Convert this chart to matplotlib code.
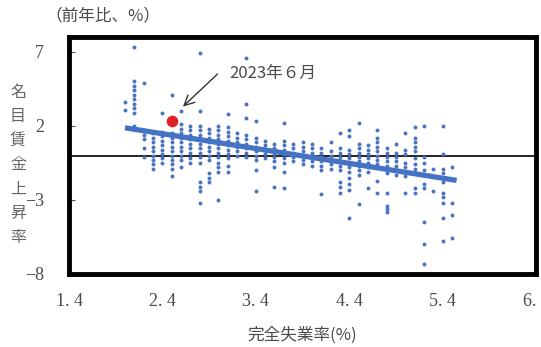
import matplotlib
matplotlib.use("Agg")
import matplotlib.pyplot as plt
import numpy as np

# Monthly observations grouped by unemployment rate (%): nominal wage growth (% y/y)
wage_by_unemp = {
    2.0: [3.6, 3.1],
    2.1: [7.3, 5.0, 4.7, 4.4, 4.1, 3.8, 3.5, 3.2, 2.9, 2.0, 1.8],
    2.2: [4.9, 1.7, 1.4, 1.1, 0.5, -0.1],
    2.3: [1.5, 1.2, 0.9, 0.6, 0.3, 0.0, -0.3, -0.6, -0.9],
    2.4: [2.9, 1.6, 1.3, 1.0, 0.7, 0.4, 0.1, -0.2, -0.5],
    2.5: [4.1, 1.5, 1.2, 0.9, 0.6, 0.3, 0.0, -0.3, -0.6, -0.9, -1.4],
    2.6: [3.0, 2.1, 1.8, 1.5, 1.2, 0.9, 0.6, 0.3, 0.0, -0.3, -0.8],
    2.7: [2.0, 1.7, 1.4, 1.1, 0.8, 0.5, 0.2, -0.2, -0.5],
    2.8: [6.9, 3.0, 2.0, 1.7, 1.4, 1.1, 0.8, 0.5, 0.2, -0.1, -0.5, -1.8, -2.1, -2.4, -3.2],
    2.9: [1.8, 1.5, 1.2, 0.9, 0.6, 0.3, 0.0, -0.3, -1.2, -1.5, -1.8],
    3.0: [2.0, 1.7, 1.4, 1.1, 0.8, 0.5, 0.2, -0.1, -0.5, -0.8, -1.1, -3.0],
    3.1: [2.8, 1.9, 1.6, 1.3, 1.0, 0.7, 0.4, 0.1, -0.2, -0.7, -1.1],
    3.2: [1.5, 1.2, 0.9, 0.6, 0.3, 0.0],
    3.3: [6.6, 3.5, 2.5, 1.4, 1.1, 0.8, 0.5, 0.2, -0.1],
    3.4: [2.3, 1.2, 0.9, 0.6, 0.3, 0.0, -0.3, -1.0, -2.4],
    3.5: [1.0, 0.7, 0.4, 0.1, -0.2],
    3.6: [0.8, 0.5, 0.2, -0.1, -0.4, -0.8, -2.1],
    3.7: [2.2, 1.0, 0.7, 0.4, 0.1, -0.2, -0.5, -1.1, -2.2],
    3.8: [0.8, 0.5, 0.2, -0.1, -0.4],
    3.9: [0.9, 0.6, 0.3, 0.0, -0.3, -0.6],
    4.0: [0.8, 0.5, 0.2, -0.1, -0.4, -0.7],
    4.1: [0.5, 0.2, -0.1, -0.4, -0.7, -1.0, -2.6],
    4.2: [0.9, 0.3, 0.0, -0.3, -0.6, -0.9],
    4.3: [1.5, 0.5, 0.2, -0.1, -0.4, -0.7, -1.0, -1.8, -2.1, -2.5],
    4.4: [1.7, 1.3, 0.4, 0.1, -0.2, -0.5, -0.8, -1.1, -1.5, -1.9, -2.3, -4.2],
    4.5: [2.2, 0.8, 0.5, 0.2, -0.1, -0.4, -0.7, -1.0, -1.3, -3.3],
    4.6: [0.7, 0.4, 0.1, -0.2, -0.5, -0.8, -1.1, -2.2],
    4.7: [1.7, 1.2, 0.9, 0.6, 0.3, 0.0, -0.3, -0.6, -1.7, -2.5],
    4.8: [0.5, 0.2, -0.1, -0.4, -0.7, -1.2, -2.5, -3.4, -3.6, -3.8],
    4.9: [0.8, 0.2, -0.1, -0.4, -0.7, -1.0, -1.3],
    5.0: [1.5, 0.4, 0.1, -0.5, -0.8, -1.1, -1.4, -2.5],
    5.1: [1.9, 1.2, 0.9, 0.6, 0.3, -0.2, -0.6, -0.9, -1.2, -2.2, -2.5],
    5.2: [2.0, -0.1, -0.5, -1.0, -1.3, -1.9, -2.2, -4.5, -6.0, -7.3],
    5.3: [-0.9, -2.4],
    5.4: [2.0, 0.1, -0.9, -1.2, -1.5, -1.8, -2.5, -2.8, -3.2, -4.2, -5.8],
    5.5: [-0.8, -3.2, -4.0, -5.6],
}

# Latest observation (June 2023)
latest_unemp = 2.5
latest_wage = 2.3
latest_label = "2023年６月"

# Linear trend: wage = slope * unemp + intercept
trend_slope = -1.0
trend_intercept = 3.87

x_ticks = [1.4, 2.4, 3.4, 4.4, 5.4, 6.4]
x_ticklabels = ["1. 4", "2. 4", "3. 4", "4. 4", "5. 4", "6. 4"]
y_ticks = [-8, -3, 2, 7]
y_ticklabels = ["−8", "−3", "2", "7"]

x_title = "完全失業率(%)"
y_title = "名目賃金上昇率"
unit_note = "（前年比、%）"

unemp = np.array([u for u, ws in wage_by_unemp.items() for _ in ws])
wage = np.array([w for ws in wage_by_unemp.values() for w in ws])

NUM_FONT = ["Liberation Serif", "Noto Sans CJK JP"]
JP_FONT = ["Noto Sans CJK JP", "DejaVu Sans"]
TEXT_COLOR = "#4a4a4a"
BLUE = "#4a74bf"

fig = plt.figure(figsize=(5.41, 3.47), dpi=100)
ax = fig.add_axes([69 / 541, 1 - 274 / 347, (536 - 69) / 541, (274 - 37) / 347])

ax.scatter(unemp, wage, s=8, marker="o", color=BLUE, linewidths=0, zorder=3)

xx = np.array([unemp.min(), unemp.max() + 0.05])
ax.plot(xx, trend_slope * xx + trend_intercept, color="#4472c4", lw=3.8,
        solid_capstyle="butt", zorder=4)

ax.scatter([latest_unemp], [latest_wage], s=70, color="#e0202a", zorder=5,
           linewidths=0)

ax.axhline(0, color="black", lw=1.2, zorder=2)

ax.set_xlim(1.4, 6.4)
ax.set_ylim(-8, 8)
ax.set_xticks(x_ticks)
ax.set_xticklabels(x_ticklabels, family=NUM_FONT, fontsize=13, color=TEXT_COLOR)
ax.set_yticks(y_ticks)
ax.set_yticklabels(y_ticklabels, family=NUM_FONT, fontsize=13, color=TEXT_COLOR)
ax.tick_params(axis="x", length=0, pad=14)
ax.tick_params(axis="y", direction="in", length=4, width=0.8, color="#555555", pad=18)

for sp in ax.spines.values():
    sp.set_linewidth(3.5)
    sp.set_color("black")

# Callout for the latest month: arrow plus label
ax.annotate("", xy=(2.62, 3.3), xytext=(2.99, 5.5),
            arrowprops=dict(arrowstyle="->", color="#333333", lw=1.0,
                            mutation_scale=18, shrinkA=0, shrinkB=0))
ax.text(3.12, 5.55, latest_label, fontsize=12, family=JP_FONT,
        color=TEXT_COLOR, va="center", ha="left")

fig.text(302 / 541, 1 - 335 / 347, x_title, family=JP_FONT, fontsize=12,
         color=TEXT_COLOR, ha="center", va="center")
fig.text(18 / 541, 1 - 165 / 347, "\n".join(y_title), family=JP_FONT,
         fontsize=11.5, color="#666666", ha="center", va="center",
         linespacing=1.55)
fig.text(45 / 541, 1 - 16 / 347, unit_note, family=JP_FONT, fontsize=12,
         color=TEXT_COLOR, ha="left", va="center")

fig.savefig("out.png", dpi=100)
